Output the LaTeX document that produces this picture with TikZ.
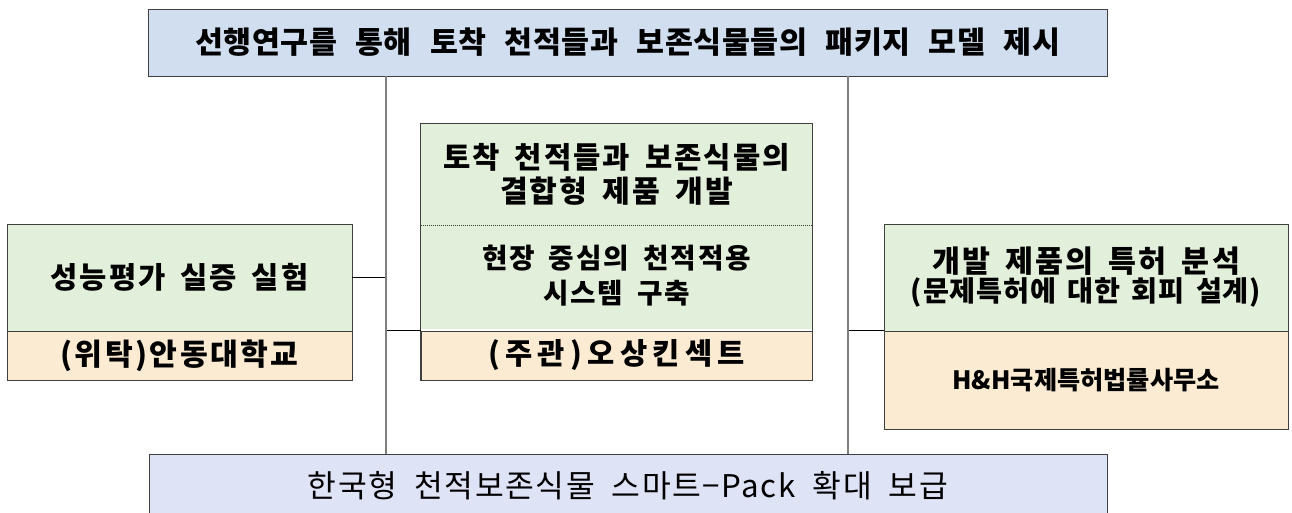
\documentclass[tikz,border=0pt]{standalone}
\usepackage{graphicx}
\usepackage{fontspec}
\setmainfont{Noto Sans CJK KR}
\newfontfamily\titlef{Noto Sans CJK KR}[LetterSpace=2]
\newfontfamily\bodyf{Noto Sans CJK KR}[LetterSpace=7]
\newfontfamily\orgf{Noto Sans CJK KR}[LetterSpace=8]
\newfontfamily\orgwf{Noto Sans CJK KR}[LetterSpace=18]
\newfontfamily\tightf{Noto Sans CJK KR}[LetterSpace=3]
\newfontfamily\lawf{Noto Sans CJK KR}[LetterSpace=0]
\newfontfamily\botf{Noto Sans CJK KR}[LetterSpace=5]
\newcommand\ws[1][0.5em]{\hspace{#1}}
\newcommand\fitw[2]{\resizebox{#1}{!}{#2}}
\definecolor{topfill}{HTML}{D0DEEF}
\definecolor{greenfill}{HTML}{E2EFDA}
\definecolor{orangefill}{HTML}{FBEBD3}
\definecolor{botfill}{HTML}{DEE4F6}
\definecolor{bordergray}{HTML}{404040}
\definecolor{vgray}{HTML}{7F7F7F}
\begin{document}
\begin{tikzpicture}[x=1pt,y=-1pt,
  boxbase/.style={rectangle,inner sep=0pt,align=center,text=black},
  framed/.style={boxbase,draw=bordergray,line width=0.8pt},
  vline/.style={draw=vgray,line width=1.4pt},
  hline/.style={draw=black,line width=0.8pt},
  bodyfont/.style={font=\bodyf\bfseries\fontsize{25}{#1}\selectfont}]
\useasboundingbox (0,0) rectangle (1292,512);
% top and bottom bars
\node[framed,fill=topfill,minimum width=959pt,minimum height=67pt,
      font=\titlef\bfseries\fontsize{28}{32}\selectfont] (top) at (627.5,42.5)
  {\fitw{865pt}{선행연구를\ws[0.6em]통해\ws[0.6em]토착\ws[0.6em]천적들과\ws[0.6em]보존식물들의\ws[0.6em]패키지\ws[0.6em]모델\ws[0.6em]제시}};
\node[framed,fill=botfill,minimum width=958pt,minimum height=64pt,
      font=\botf\fontsize{27}{30}\selectfont] (bot) at (628,486)
  {\fitw{640pt}{한국형\ws[0.55em]천적보존식물\ws[0.55em]스마트−Pack\ws[0.55em]확대\ws[0.55em]보급}};
% left box
\node[framed,fill=greenfill,minimum width=345pt,minimum height=107pt,bodyfont=30] (lg) at (179.5,277.5)
  {\fitw{258pt}{성능평가\ws 실증\ws 실험}};
\node[framed,fill=orangefill,minimum width=345pt,minimum height=49pt,
      font=\orgf\bfseries\fontsize{25}{30}\selectfont] (lo) at (179.5,355.5)
  {\fitw{238pt}{(위탁)안동대학교}};
% middle box
\node[boxbase,fill=greenfill,minimum width=391pt,minimum height=101pt,bodyfont=34] (mg1) at (616.5,174.5)
  {\fitw{347pt}{토착\ws 천적들과\ws 보존식물의}\\ \fitw{233pt}{결합형\ws 제품\ws 개발}};
\node[boxbase,fill=greenfill,minimum width=391pt,minimum height=106pt,bodyfont=35] (mg2) at (616.5,276)
  {\fitw{269pt}{현장\ws 중심의\ws 천적적용}\\ \fitw{147pt}{시스템\ws 구축}};
\node[framed,fill=orangefill,minimum width=391pt,minimum height=49pt,
      font=\orgwf\bfseries\fontsize{25}{30}\selectfont] (mo) at (616.5,355.5)
  {\fitw{257pt}{(주관)오상킨섹트}};
\draw[draw=bordergray,line width=0.8pt] (mg1.north west) rectangle (mo.south east);
\draw[draw=bordergray,line width=0.8pt,dash pattern=on 1pt off 1pt] (mg1.south west) -- (mg1.south east);
% right box
\node[framed,fill=greenfill,minimum width=404pt,minimum height=107pt,bodyfont=29] (rg) at (1086,277.5)
  {\fitw{308pt}{개발\ws 제품의\ws 특허\ws 분석}\\ \fitw{350pt}{\tightf (문제특허에\ws[0.4em]대한\ws[0.4em]회피\ws[0.4em]설계)}};
\node[framed,fill=orangefill,minimum width=404pt,minimum height=98pt,
      font=\lawf\bfseries\fontsize{20}{24}\selectfont] (ro) at (1086,380)
  {\fitw{267pt}{H\&H국제특허법률사무소}};
% connectors
\coordinate (cL) at (386,0);
\coordinate (cR) at (848,0);
\draw[hline] (lg.east) -- (lg.east -| cL);
\draw[hline] (mo.north west) -- (mo.north west -| cL);
\draw[hline] (ro.north west) -- (ro.north west -| cR);
\draw[vline] (top.south -| cL) -- (bot.north -| cL);
\draw[vline] (top.south -| cR) -- (bot.north -| cR);
\end{tikzpicture}
\end{document}
